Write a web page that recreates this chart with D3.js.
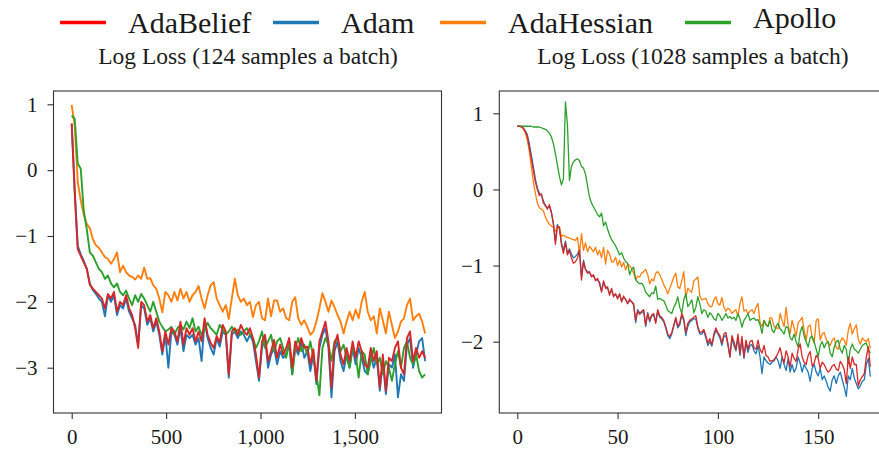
<!DOCTYPE html>
<html lang="en">
<head>
<meta charset="utf-8">
<title>Log Loss</title>
<script src="https://cdn.jsdelivr.net/npm/d3@7"></script>
<style>
	body { margin: 0; background: #fff; }
	svg text { font-family: "Liberation Serif", "DejaVu Serif", serif; fill: #1a1a1a; }
	.axis path, .axis line { stroke: #333; stroke-width: 1.1; }
	.frame { fill: none; stroke: #333; stroke-width: 1.1; }
</style>
</head>
<body>
<script>

//Size of the picture
var w = 879;
var h = 450;

//Series names (legend order) and colours
var names = ["AdaBelief", "Adam", "AdaHessian", "Apollo"];
var colors = ["#d62728", "#1f77b4", "#ff7f0e", "#2ca02c"];
var legendColors = ["#ff0000", "#1f77b4", "#ff7f0e", "#2ca02c"];

//Panel titles
var titles = ["Log Loss (124 samples a batch)", "Log Loss (1028 samples a batch)"];

//Tick values
var leftXTicks = [0, 500, 1000, 1500];
var leftYTicks = [-3, -2, -1, 0, 1];
var rightXTicks = [0, 50, 100, 150];
var rightYTicks = [-2, -1, 0, 1];

//Left panel: one value every 16 iterations
var leftStep = 16;

var leftAdaBelief = [
	0.71, -0.35, -1.2, -1.3, -1.4, -1.5, -1.74, -1.8, -1.85, -1.9,
	-1.95, -2.1, -1.88, -1.95, -1.85, -2.15, -2.0, -2.05, -1.9, -2.1,
	-2.2, -2.4, -2.7, -2.0, -2.05, -2.3, -2.2, -2.4, -2.25, -2.45,
	-2.75, -2.45, -2.65, -2.4, -2.45, -2.6, -2.3, -2.65, -2.4, -2.5,
	-2.4, -2.6, -2.45, -2.6, -2.25, -2.5, -2.62, -2.7, -2.52, -2.62,
	-2.35, -2.45, -3.1, -2.45, -2.4, -2.5, -2.35, -2.45, -2.5, -2.4,
	-2.55, -2.8, -3.15, -2.6, -2.5, -2.9, -2.75, -2.58, -2.85, -2.65,
	-2.8, -2.7, -2.55, -3.0, -2.6, -2.75, -2.55, -2.7, -2.68, -2.95,
	-2.72, -3.2, -2.6, -2.45, -2.3, -2.6, -3.3, -2.65, -2.5, -2.8,
	-2.95, -2.7, -2.9, -2.6, -2.85, -2.6, -2.75, -2.95, -3.0, -2.7,
	-2.9, -2.75, -3.3, -2.8, -3.35, -2.85, -2.9, -2.7, -2.6, -3.0,
	-3.1, -2.55, -2.45, -2.9, -2.7, -2.85, -2.75, -2.85
];

var leftAdam = [
	0.7, -0.3, -1.15, -1.28, -1.38, -1.5, -1.72, -1.82, -1.88, -1.95,
	-2.0, -2.22, -1.9, -2.0, -1.9, -2.2, -2.05, -2.1, -1.95, -2.15,
	-2.25, -2.35, -2.65, -2.05, -2.1, -2.35, -2.25, -2.45, -2.3, -2.5,
	-2.8, -2.5, -3.0, -2.45, -2.5, -2.65, -2.4, -2.75, -2.5, -2.55,
	-2.5, -2.65, -2.55, -2.9, -2.3, -2.55, -2.7, -2.8, -2.55, -2.68,
	-2.45, -2.5, -3.15, -2.5, -2.45, -2.55, -2.45, -2.5, -2.6, -2.5,
	-2.6, -2.9, -3.2, -2.7, -2.55, -3.0, -2.8, -2.7, -2.95, -2.75,
	-2.85, -2.8, -2.65, -3.1, -2.7, -2.8, -2.6, -2.85, -2.75, -3.05,
	-2.8, -3.25, -2.7, -2.5, -2.4, -2.7, -3.45, -2.75, -2.6, -2.9,
	-3.05, -2.8, -3.0, -2.7, -2.95, -2.7, -2.85, -3.05, -3.1, -2.8,
	-3.0, -2.85, -3.35, -2.9, -3.4, -2.95, -3.0, -2.8, -3.45, -3.1,
	-3.2, -2.65, -2.55, -3.0, -2.8, -2.6, -2.55, -2.9
];

var leftAdaHessian = [
	0.99, 0.68, -0.18, -0.46, -0.68, -0.82, -0.88, -1.05, -1.14, -1.18,
	-1.25, -1.32, -1.35, -1.42, -1.35, -1.25, -1.55, -1.45, -1.55, -1.6,
	-1.62, -1.66, -1.6, -1.65, -1.48, -1.65, -1.64, -1.75, -1.8, -1.95,
	-2.16, -1.85, -1.9, -2.0, -1.85, -1.98, -1.8, -1.95, -1.85, -2.0,
	-1.9, -1.85, -1.76, -1.95, -2.1, -1.9, -1.75, -1.7, -1.95, -2.05,
	-2.15, -2.05, -2.26, -1.95, -1.65, -1.9, -2.0, -1.95, -2.05, -2.0,
	-2.23, -2.05, -2.0, -2.25, -2.28, -1.95, -2.22, -1.98, -1.98, -2.15,
	-2.1, -2.25, -2.28, -2.0, -1.93, -2.25, -2.35, -2.28, -2.38, -2.5,
	-2.45, -2.3, -2.1, -1.87, -2.0, -2.15, -1.98, -2.08, -2.2, -2.3,
	-2.48, -2.3, -2.15, -2.28, -2.12, -2.25, -2.0, -1.85, -2.15, -2.28,
	-2.22, -2.48, -2.1, -2.28, -2.48, -2.15, -2.35, -2.55, -2.45, -2.3,
	-2.25, -2.05, -1.95, -2.28, -2.22, -2.18, -2.3, -2.48
];

var leftApollo = [
	0.83, 0.78, 0.1, 0.02, -0.62, -0.9, -1.25, -1.3, -1.4, -1.5,
	-1.55, -1.65, -1.6, -1.72, -1.78, -1.72, -1.85, -1.9, -1.83, -1.95,
	-2.05, -1.9, -2.0, -1.88, -1.95, -2.05, -2.15, -2.0, -2.15, -2.3,
	-2.38, -2.45, -2.42, -2.38, -2.5, -2.4, -2.35, -2.42, -2.3, -2.4,
	-2.25, -2.45, -2.38, -2.5, -2.42, -2.32, -2.4, -2.45, -2.5, -2.35,
	-2.42, -2.5, -2.45, -2.38, -2.45, -2.42, -2.5, -2.45, -2.4, -2.5,
	-2.55, -2.7, -2.6, -2.45, -2.7, -2.6, -2.5, -2.75, -2.6, -2.55,
	-2.7, -2.85, -2.6, -3.1, -2.7, -2.55, -2.75, -2.65, -2.8, -2.6,
	-2.85, -3.1, -3.42, -2.7, -2.55, -2.65, -2.9, -2.6, -2.55, -2.75,
	-2.65, -2.85, -3.0, -2.7, -2.8, -3.15, -2.75, -2.8, -3.1, -2.9,
	-2.7, -2.95, -2.85, -3.1, -2.9, -3.0, -3.2, -2.95, -2.75, -3.0,
	-2.7, -2.6, -2.85, -2.95, -2.8, -3.05, -3.15, -3.1
];

//Right panel: one value per step, steps 0..176
var rightAdaBelief = [
	0.83, 0.83, 0.82, 0.80, 0.76, 0.70, 0.55, 0.40, 0.25, 0.10,
	0.00, -0.08, -0.06, -0.18, -0.20, -0.26, -0.20, -0.30, -0.45, -0.72,
	-0.48, -0.50, -0.72, -0.84, -0.70, -0.86, -0.80, -0.90, -0.97, -0.95,
	-0.90, -0.80, -1.19, -0.95, -1.05, -1.10, -1.08, -1.15, -1.12, -1.20,
	-1.17, -1.24, -1.35, -1.20, -1.30, -1.28, -1.39, -1.30, -1.41, -1.37,
	-1.44, -1.37, -1.48, -1.40, -1.45, -1.50, -1.44, -1.48, -1.50, -1.72,
	-1.60, -1.64, -1.60, -1.58, -1.78, -1.63, -1.72, -1.65, -1.63, -1.76,
	-1.58, -1.66, -1.68, -1.72, -1.80, -1.90, -1.93, -1.88, -1.78, -1.68,
	-1.80, -1.75, -1.63, -1.70, -1.88, -1.76, -1.72, -1.70, -1.68, -1.66,
	-1.80, -1.88, -1.87, -1.84, -1.92, -2.02, -1.96, -2.04, -1.90, -1.82,
	-1.88, -1.92, -2.02, -1.90, -1.88, -2.02, -2.20, -1.92, -2.00, -2.10,
	-1.90, -2.15, -1.93, -2.20, -1.98, -2.10, -2.00, -1.98, -2.08, -2.10,
	-1.98, -2.10, -2.15, -2.05, -2.18, -2.20, -2.26, -2.25, -2.24, -2.20,
	-2.15, -2.08, -2.20, -2.28, -2.12, -2.20, -2.33, -2.15, -2.22, -2.26,
	-2.10, -2.03, -2.20, -2.27, -2.30, -2.18, -2.13, -2.32, -2.28, -2.18,
	-2.22, -2.35, -2.27, -2.30, -2.36, -2.40, -2.37, -2.32, -2.30, -2.36,
	-2.38, -2.26, -2.30, -2.37, -2.55, -2.20, -2.35, -2.20, -2.30, -2.30,
	-2.58, -2.50, -2.46, -2.42, -2.20, -2.07, -2.33
];

var rightAdam = [
	0.83, 0.83, 0.83, 0.81, 0.77, 0.72, 0.60, 0.45, 0.30, 0.14,
	0.02, -0.05, -0.07, -0.15, -0.22, -0.24, -0.22, -0.30, -0.45, -0.68,
	-0.46, -0.52, -0.70, -0.80, -0.68, -0.84, -0.78, -0.85, -0.90, -0.88,
	-0.85, -0.78, -1.15, -0.93, -1.05, -1.08, -1.10, -1.13, -1.14, -1.18,
	-1.19, -1.22, -1.33, -1.22, -1.28, -1.30, -1.37, -1.32, -1.40, -1.38,
	-1.42, -1.38, -1.46, -1.42, -1.44, -1.50, -1.46, -1.47, -1.52, -1.75,
	-1.58, -1.62, -1.62, -1.60, -1.80, -1.62, -1.74, -1.66, -1.65, -1.74,
	-1.60, -1.68, -1.70, -1.74, -1.82, -1.92, -1.96, -1.90, -1.80, -1.70,
	-1.82, -1.78, -1.66, -1.72, -1.92, -1.80, -1.74, -1.72, -1.70, -1.70,
	-1.82, -1.90, -1.90, -1.86, -1.95, -2.05, -2.00, -2.06, -1.93, -1.85,
	-1.90, -1.95, -2.05, -1.93, -1.92, -2.05, -2.20, -1.96, -2.05, -2.12,
	-1.95, -2.18, -1.98, -2.22, -2.02, -2.14, -2.05, -2.04, -2.12, -2.16,
	-2.05, -2.20, -2.42, -2.20, -2.25, -2.28, -2.30, -2.27, -2.25, -2.20,
	-2.25, -2.35, -2.20, -2.30, -2.38, -2.22, -2.40, -2.30, -2.40, -2.35,
	-2.20, -2.28, -2.40, -2.30, -2.35, -2.40, -2.52, -2.35, -2.30, -2.40,
	-2.45, -2.35, -2.50, -2.45, -2.52, -2.60, -2.65, -2.50, -2.45, -2.55,
	-2.45, -2.40, -2.50, -2.60, -2.72, -2.45, -2.50, -2.35, -2.48, -2.55,
	-2.62, -2.58, -2.52, -2.50, -2.30, -2.22, -2.46
];

var rightAdaHessian = [
	0.83, 0.83, 0.82, 0.80, 0.74, 0.65, 0.50, 0.30, 0.10, -0.05,
	-0.18, -0.24, -0.26, -0.28, -0.36, -0.42, -0.46, -0.48, -0.50, -0.55,
	-0.50, -0.49, -0.62, -0.60, -0.62, -0.63, -0.64, -0.65, -0.66, -0.67,
	-0.63, -0.84, -0.58, -0.80, -0.70, -0.82, -0.75, -0.78, -0.82, -0.76,
	-0.86, -0.80, -0.90, -0.76, -0.98, -0.80, -0.85, -0.95, -0.95, -0.89,
	-1.00, -0.93, -1.02, -0.96, -1.06, -0.98, -1.00, -1.04, -1.10, -1.19,
	-1.14, -1.15, -1.10, -1.08, -1.05, -1.12, -1.24, -1.18, -1.20, -1.10,
	-1.08, -1.12, -1.18, -1.25, -1.30, -1.37, -1.30, -1.23, -1.15, -1.10,
	-1.28, -1.30, -1.20, -1.08, -1.42, -1.30, -1.33, -1.35, -1.20, -1.18,
	-1.15, -1.40, -1.45, -1.44, -1.43, -1.50, -1.54, -1.54, -1.45, -1.41,
	-1.50, -1.52, -1.42, -1.55, -1.60, -1.56, -1.58, -1.63, -1.60, -1.58,
	-1.67, -1.50, -1.41, -1.60, -1.58, -1.63, -1.60, -1.58, -1.63, -1.55,
	-1.50, -1.75, -1.80, -1.72, -1.77, -1.80, -1.68, -1.70, -1.80, -1.82,
	-1.83, -1.63, -1.72, -1.80, -1.55, -1.78, -1.90, -1.72, -1.82, -1.93,
	-1.75, -1.72, -1.68, -1.85, -1.98, -1.80, -1.78, -1.95, -2.02, -1.72,
	-1.70, -1.98, -1.90, -1.88, -1.97, -2.02, -2.05, -1.98, -1.95, -2.08,
	-2.10, -2.00, -1.95, -1.98, -2.05, -1.85, -1.76, -1.90, -1.83, -1.78,
	-1.97, -2.03, -1.95, -1.98, -2.00, -1.96, -2.09
];

var rightApollo = [
	0.83, 0.83, 0.83, 0.83, 0.83, 0.83, 0.83, 0.83, 0.82, 0.82,
	0.82, 0.82, 0.81, 0.80, 0.79, 0.77, 0.74, 0.69, 0.60, 0.47,
	0.32, 0.17, 0.06, 0.14, 1.15, 0.85, 0.12, 0.30, 0.36, 0.39,
	0.40, 0.38, 0.30, 0.28, 0.20, 0.05, -0.10, -0.18, -0.23, -0.28,
	-0.33, -0.36, -0.31, -0.48, -0.43, -0.52, -0.60, -0.66, -0.70, -0.74,
	-0.80, -0.86, -0.83, -0.90, -0.95, -0.97, -1.12, -1.05, -1.02, -1.18,
	-1.22, -1.24, -1.23, -1.27, -1.35, -1.38, -1.41, -1.36, -1.37, -1.27,
	-1.44, -1.43, -1.45, -1.46, -1.52, -1.59, -1.61, -1.63, -1.55, -1.50,
	-1.41, -1.55, -1.63, -1.45, -1.37, -1.54, -1.50, -1.45, -1.62, -1.55,
	-1.41, -1.50, -1.63, -1.58, -1.60, -1.68, -1.62, -1.65, -1.70, -1.72,
	-1.63, -1.66, -1.72, -1.68, -1.63, -1.69, -1.67, -1.70, -1.68, -1.72,
	-1.63, -1.70, -1.81, -1.72, -1.68, -1.63, -1.72, -1.70, -1.69, -1.72,
	-1.71, -1.78, -1.89, -1.72, -1.78, -1.80, -1.72, -1.85, -1.88, -1.80,
	-1.76, -1.83, -1.86, -1.90, -1.80, -1.82, -1.95, -1.98, -1.90, -2.00,
	-2.07, -1.88, -1.80, -1.93, -2.00, -2.07, -1.95, -1.93, -2.00, -2.10,
	-2.20, -2.05, -2.00, -2.08, -2.02, -2.00, -2.15, -2.20, -2.07, -2.00,
	-1.98, -2.10, -2.15, -2.05, -2.10, -2.29, -2.10, -2.03, -2.10, -2.12,
	-2.15, -2.10, -2.05, -2.03, -2.02, -2.10, -2.15
];

//Create SVG element
var svg = d3.select("body")
	.append("svg")
	.attr("width", w)
	.attr("height", h);

//Panel layout (pixel boxes and axis domains)
var panels = [
	{
		left: 53.5, right: 441.5, top: 91, bottom: 413,
		xDomain: [-96.4, 1958.7], yDomain: [-3.688, 1.202],
		xTicks: leftXTicks, yTicks: leftYTicks,
		step: leftStep, lineWidth: 1.9,
		series: [leftAdaBelief, leftAdam, leftAdaHessian, leftApollo],
		title: titles[0], titleX: 248
	},
	{
		left: 499.3, right: 888, top: 91, bottom: 413,
		xDomain: [-8.97, 184.8], yDomain: [-2.937, 1.293],
		xTicks: rightXTicks, yTicks: rightYTicks,
		step: 1, lineWidth: 1.3,
		series: [rightAdaBelief, rightAdam, rightAdaHessian, rightApollo],
		title: titles[1], titleX: 693
	}
];

//Drawing order: red ends up on top
var drawOrder = [1, 2, 3, 0];

panels.forEach(function(p) {
	var xScale = d3.scaleLinear().domain(p.xDomain).range([p.left, p.right]);
	var yScale = d3.scaleLinear().domain(p.yDomain).range([p.bottom, p.top]);

	var line = d3.line()
		.x(function(d, i) { return xScale(i * p.step); })
		.y(function(d) { return yScale(d); });

	drawOrder.forEach(function(k) {
		svg.append("path")
			.datum(p.series[k])
			.attr("fill", "none")
			.attr("stroke", colors[k])
			.attr("stroke-width", p.lineWidth)
			.attr("stroke-linejoin", "round")
			.attr("d", line);
	});

	//Box round the plot
	svg.append("rect")
		.attr("class", "frame")
		.attr("x", p.left)
		.attr("y", p.top)
		.attr("width", p.right - p.left)
		.attr("height", p.bottom - p.top);

	var xAxis = d3.axisBottom(xScale)
		.tickValues(p.xTicks)
		.tickFormat(d3.format(","))
		.tickSize(6)
		.tickPadding(10);

	var yAxis = d3.axisLeft(yScale)
		.tickValues(p.yTicks)
		.tickFormat(d3.format("d"))
		.tickSize(6)
		.tickPadding(10);

	var gx = svg.append("g")
		.attr("class", "axis")
		.attr("transform", "translate(0," + p.bottom + ")")
		.call(xAxis);
	gx.select(".domain").remove();

	var gy = svg.append("g")
		.attr("class", "axis")
		.attr("transform", "translate(" + p.left + ",0)")
		.call(yAxis);
	gy.select(".domain").remove();

	svg.selectAll(".axis text")
		.attr("font-family", "'Liberation Serif', 'DejaVu Serif', serif")
		.attr("font-size", "21px")
		.attr("fill", "#1a1a1a");

	//Panel title
	svg.append("text")
		.attr("x", p.titleX)
		.attr("y", 64)
		.attr("text-anchor", "middle")
		.attr("font-size", "23.5px")
		.text(p.title);
});

//Legend across the top
var legendX = [60, 273, 440, 685];
var legendBaseline = [33, 33, 33, 28];

names.forEach(function(name, k) {
	svg.append("line")
		.attr("x1", legendX[k])
		.attr("x2", legendX[k] + 46)
		.attr("y1", 22.5)
		.attr("y2", 22.5)
		.attr("stroke", legendColors[k])
		.attr("stroke-width", 3.5);

	svg.append("text")
		.attr("x", legendX[k] + 68)
		.attr("y", legendBaseline[k])
		.attr("font-size", "30px")
		.text(name);
});

</script>
</body>
</html>
